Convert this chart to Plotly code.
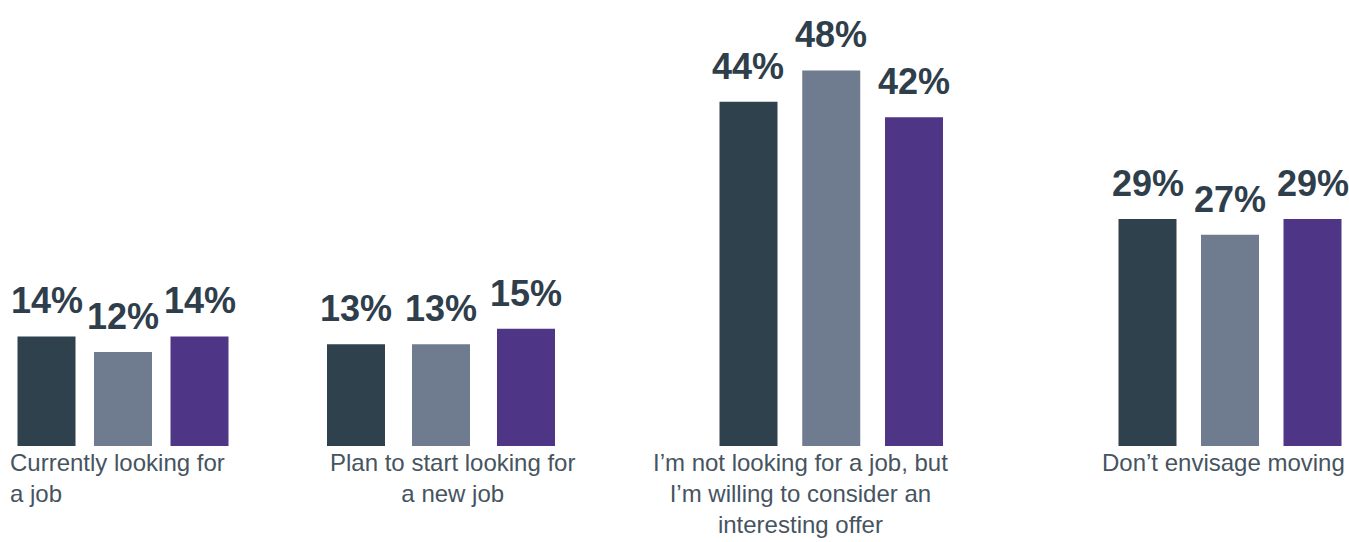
import plotly.graph_objects as go

# ---- data ----
categories = [
    "Currently looking for<br>a job",
    "Plan to start looking for<br>a new job",
    "I’m not looking for a job, but<br>I’m willing to consider an<br>interesting offer",
    "Don’t envisage moving",
]
series = ["Series 1", "Series 2", "Series 3"]
values = [
    [14, 12, 14],
    [13, 13, 15],
    [44, 48, 42],
    [29, 27, 29],
]
value_labels = [[f"{v}%" for v in row] for row in values]

# ---- style / layout ----
W, H = 1349, 542
colors = ["#2f414d", "#6f7b8e", "#4f3585"]
label_color = "#2f3e4b"
cat_color = "#46545f"
# per-group pixel layout: (first bar centre, pitch)
group_geom = [(46.5, 76.5), (356, 85), (748.5, 82.75), (1147.5, 82.5)]
bar_px = 58
# category label placement: (x px, xanchor, align)
cat_pos = [(8, "left", "left"), (452, "center", "center"),
           (800, "center", "center"), (1347, "right", "right")]

fig = go.Figure()
for i, row in enumerate(values):
    ax = "" if i == 0 else str(i + 1)
    c1, pitch = group_geom[i]
    d0 = (c1 - pitch / 2) / W
    d1 = (c1 + 2.5 * pitch) / W
    rng = [-0.5, 2.5]
    if d1 > 1:
        rng = [-0.5, 2.5 - (d1 - 1) * W / pitch]
        d1 = 1
    fig.add_trace(go.Bar(
        x=series, y=row, marker=dict(color=colors, line=dict(width=0)),
        width=bar_px / pitch, xaxis="x" + ax, yaxis="y" + ax,
        hoverinfo="skip", showlegend=False,
    ))
    fig.layout["xaxis" + ax] = dict(domain=[d0, d1], range=rng, visible=False,
                                    type="category", fixedrange=True)
    fig.layout["yaxis" + ax] = dict(range=[0, 57], visible=False,
                                    domain=[96 / H, 1], anchor="x" + ax,
                                    fixedrange=True)
    for j, v in enumerate(row):
        fig.add_annotation(
            x=series[j], y=v, xref="x" + ax, yref="y" + ax,
            text=value_labels[i][j], showarrow=False,
            yanchor="bottom", xanchor="center", yshift=13,
            font=dict(family="Liberation Sans, Arial, sans-serif",
                      size=36, color=label_color, weight="bold"),
        )
    px_, xa, al = cat_pos[i]
    fig.add_annotation(
        x=px_ / W, y=96 / H, xref="paper", yref="paper",
        text=categories[i], showarrow=False, xanchor=xa, yanchor="top",
        align=al, yshift=-1,
        font=dict(family="Liberation Sans, Arial, sans-serif", size=24,
                  color=cat_color),
    )

fig.update_layout(
    width=W, height=H, margin=dict(l=0, r=0, t=0, b=0),
    paper_bgcolor="white", plot_bgcolor="white",
)
fig.write_html("out.html")
